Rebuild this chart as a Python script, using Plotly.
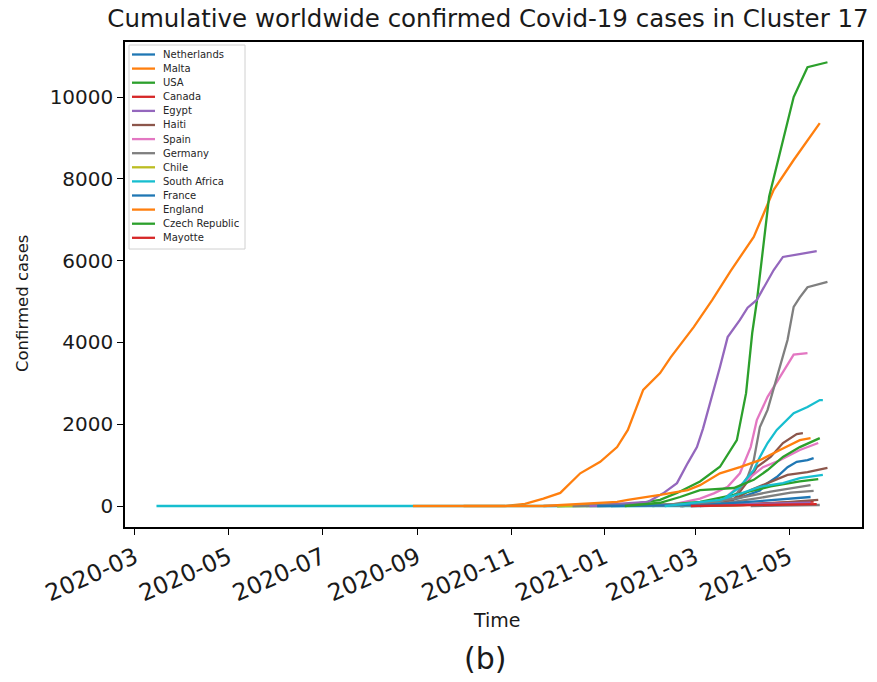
import plotly.graph_objects as go

# ---------------- data ----------------
COLORS = ["#1f77b4", "#ff7f0e", "#2ca02c", "#d62728", "#9467bd",
          "#8c564b", "#e377c2", "#7f7f7f", "#bcbd22", "#17becf"]

legend_names = ["Netherlands", "Malta", "USA", "Canada", "Egypt", "Haiti", "Spain",
                "Germany", "Chile", "South Africa", "France", "England",
                "Czech Republic", "Mayotte"]

netherlands_dates = ["2021-01-05", "2021-02-26", "2021-03-17", "2021-03-30", "2021-04-12", "2021-04-17",
                     "2021-04-23", "2021-04-30", "2021-05-06", "2021-05-13", "2021-05-17"]
netherlands_cases = [0, 10, 80, 200, 380, 560, 710, 950, 1080, 1120, 1170]

malta_dates = ["2020-10-01", "2020-10-28", "2020-11-10", "2020-11-22", "2020-12-03", "2020-12-16",
               "2020-12-29", "2021-01-09", "2021-01-16", "2021-01-26", "2021-02-06", "2021-02-13",
               "2021-02-28", "2021-03-12", "2021-03-24", "2021-04-08", "2021-04-21", "2021-05-04",
               "2021-05-21"]
malta_cases = [0, 0, 50, 180, 320, 800, 1080, 1440, 1860, 2840, 3250, 3640, 4380, 5040, 5750,
               6580, 7730, 8460, 9360]

usa_dates = ["2020-12-01", "2021-01-20", "2021-02-06", "2021-02-17", "2021-03-04", "2021-03-17",
             "2021-03-28", "2021-04-03", "2021-04-07", "2021-04-10", "2021-04-18", "2021-04-27",
             "2021-05-04", "2021-05-13", "2021-05-26"]
usa_cases = [0, 50, 150, 320, 600, 960, 1610, 2760, 4230, 5000, 7560, 8950, 10000, 10730, 10850]

canada_dates = ["2021-02-26", "2021-04-01", "2021-05-17"]
canada_cases = [0, 40, 110]

egypt_dates = ["2020-12-20", "2021-01-29", "2021-02-08", "2021-02-17", "2021-02-24", "2021-03-02",
               "2021-03-06", "2021-03-13", "2021-03-17", "2021-03-22", "2021-03-30", "2021-04-04",
               "2021-04-10", "2021-04-21", "2021-04-27", "2021-05-19"]
egypt_cases = [0, 100, 310, 560, 1050, 1440, 1900, 2840, 3400, 4130, 4550, 4850, 5040, 5770,
               6090, 6230]

haiti_dates = ["2021-02-20", "2021-03-24", "2021-03-28", "2021-04-01", "2021-04-06", "2021-04-10",
               "2021-04-19", "2021-04-27", "2021-05-06", "2021-05-10"]
haiti_cases = [0, 80, 250, 450, 700, 950, 1200, 1540, 1760, 1780]

spain_dates = ["2021-02-09", "2021-03-04", "2021-03-13", "2021-03-22", "2021-03-30", "2021-04-06",
               "2021-04-10", "2021-04-17", "2021-04-25", "2021-05-04", "2021-05-13"]
spain_cases = [0, 180, 310, 470, 800, 1440, 2100, 2670, 3150, 3700, 3740]

germany_dates = ["2021-02-20", "2021-03-17", "2021-03-28", "2021-04-04", "2021-04-08", "2021-04-12",
                 "2021-04-17", "2021-04-23", "2021-04-30", "2021-05-04", "2021-05-08", "2021-05-13",
                 "2021-05-26"]
germany_cases = [0, 50, 310, 710, 1120, 1930, 2350, 3150, 4060, 4870, 5100, 5350, 5480]

chile_dates = ["2020-12-01", "2021-03-17", "2021-05-13"]
chile_cases = [0, 10, 60]

south_africa_dates = ["2020-03-15", "2020-08-31", "2021-03-04", "2021-03-17", "2021-03-30",
                      "2021-04-08", "2021-04-12", "2021-04-17", "2021-04-23", "2021-05-04",
                      "2021-05-13", "2021-05-21", "2021-05-23"]
south_africa_cases = [0, 0, 0, 100, 470, 880, 1200, 1540, 1860, 2270, 2420, 2590, 2590]

france_dates = ["2020-12-27", "2021-03-04", "2021-04-12", "2021-05-15"]
france_cases = [0, 20, 120, 220]

england_dates = ["2020-08-29", "2020-11-22", "2021-01-09", "2021-01-16", "2021-02-06", "2021-02-24",
                 "2021-03-04", "2021-03-17", "2021-03-30", "2021-04-12", "2021-04-25", "2021-05-08",
                 "2021-05-15"]
england_cases = [0, 0, 100, 150, 270, 390, 510, 800, 950, 1120, 1370, 1610, 1660]

czech_dates = ["2021-01-14", "2021-02-06", "2021-02-19", "2021-03-04", "2021-03-26", "2021-04-08",
               "2021-04-17", "2021-04-27", "2021-05-08", "2021-05-21"]
czech_cases = [0, 80, 220, 390, 440, 640, 880, 1200, 1440, 1660]

mayotte_dates = ["2021-02-26", "2021-03-30", "2021-05-02", "2021-05-19"]
mayotte_cases = [0, 20, 35, 45]

# further lines of the cluster that have no legend entry (colour cycle continues)
extra_pink_dates = ["2021-02-19", "2021-03-17", "2021-04-01", "2021-04-14", "2021-04-25", "2021-05-08", "2021-05-20"]
extra_pink_cases = [0, 100, 560, 950, 1120, 1370, 1540]
extra_brown_dates = ["2021-02-19", "2021-03-17", "2021-03-28", "2021-04-06", "2021-04-17", "2021-04-30", "2021-05-13", "2021-05-26"]
extra_brown_cases = [0, 50, 200, 390, 560, 760, 830, 930]
extra_green_dates = ["2021-02-01", "2021-03-04", "2021-03-30", "2021-04-19", "2021-05-08", "2021-05-20"]
extra_green_cases = [0, 100, 300, 480, 600, 660]
extra_brown2_dates = ["2021-03-04", "2021-04-01", "2021-05-02", "2021-05-20"]
extra_brown2_cases = [0, 20, 100, 150]
extra_gray3_dates = ["2021-04-06", "2021-05-21"]
extra_gray3_cases = [0, 25]
extra_gray1_dates = ["2020-11-22", "2021-03-04", "2021-03-30", "2021-04-19", "2021-05-08", "2021-05-15"]
extra_gray1_cases = [0, 50, 200, 350, 470, 510]
extra_olive_dates = ["2020-12-01", "2021-03-17", "2021-05-13"]
extra_olive_cases = [0, 15, 60]
extra_gray2_dates = ["2020-12-11", "2021-03-17", "2021-04-12", "2021-05-02", "2021-05-17"]
extra_gray2_cases = [0, 50, 200, 330, 370]
extra_purple_dates = ["2020-12-22", "2021-03-17", "2021-05-15"]
extra_purple_cases = [0, 30, 80]
extra_cyan_dates = ["2021-02-09", "2021-03-17", "2021-03-30", "2021-04-12", "2021-04-27", "2021-05-08", "2021-05-23"]
extra_cyan_cases = [0, 150, 300, 470, 560, 680, 760]

y_tick_values = [0, 2000, 4000, 6000, 8000, 10000]
y_tick_labels = ["0", "2000", "4000", "6000", "8000", "10000"]

# ---------------- figure ----------------
# (label, dates, cases, colour) in drawing order
draw_order = [
    ("Netherlands", netherlands_dates, netherlands_cases, COLORS[0]),
    ("Malta", malta_dates, malta_cases, COLORS[1]),
    ("USA", usa_dates, usa_cases, COLORS[2]),
    ("Canada", canada_dates, canada_cases, COLORS[3]),
    ("Egypt", egypt_dates, egypt_cases, COLORS[4]),
    ("Haiti", haiti_dates, haiti_cases, COLORS[5]),
    ("Spain", spain_dates, spain_cases, COLORS[6]),
    ("Germany", germany_dates, germany_cases, COLORS[7]),
    ("Chile", chile_dates, chile_cases, COLORS[8]),
    (None, extra_pink_dates, extra_pink_cases, COLORS[6]),
    (None, extra_brown_dates, extra_brown_cases, COLORS[5]),
    (None, extra_green_dates, extra_green_cases, COLORS[2]),
    (None, extra_brown2_dates, extra_brown2_cases, COLORS[5]),
    (None, extra_gray3_dates, extra_gray3_cases, COLORS[7]),
    ("South Africa", south_africa_dates, south_africa_cases, COLORS[9]),
    (None, extra_gray1_dates, extra_gray1_cases, COLORS[7]),
    (None, extra_olive_dates, extra_olive_cases, COLORS[8]),
    (None, extra_gray2_dates, extra_gray2_cases, COLORS[7]),
    (None, extra_purple_dates, extra_purple_cases, COLORS[4]),
    ("France", france_dates, france_cases, COLORS[0]),
    ("England", england_dates, england_cases, COLORS[1]),
    ("Czech Republic", czech_dates, czech_cases, COLORS[2]),
    (None, extra_cyan_dates, extra_cyan_cases, COLORS[9]),
    ("Mayotte", mayotte_dates, mayotte_cases, COLORS[3]),
]

FONT = "DejaVu Sans"
TXT = "#1a1a1a"
fig = go.Figure()
for label, dts, vals, col in draw_order:
    fig.add_trace(go.Scatter(
        x=dts, y=vals, mode="lines", name=label if label else "other",
        line=dict(color=col, width=2.3), showlegend=False,
    ))

# plot-area geometry in pixels (used for the compact legend and free labels)
W, H = 877, 682
ML, MR, MT, MB = 125, 15, 42, 155
PW, PH = W - ML - MR, H - MT - MB


def px_x(p):
    return (p - ML) / PW


def px_y(p):
    return (H - MB - p) / PH


shapes = [dict(type="rect", xref="paper", yref="paper",
               x0=px_x(129), x1=px_x(245), y0=px_y(249), y1=px_y(45),
               line=dict(color="#d0d0d0", width=1), fillcolor="rgba(255,255,255,0.8)", layer="above")]
annotations = []
for i, name in enumerate(legend_names):
    yy = 54.5 + 14.1 * i
    shapes.append(dict(type="line", xref="paper", yref="paper",
                       x0=px_x(132), x1=px_x(155), y0=px_y(yy), y1=px_y(yy),
                       line=dict(color=COLORS[i % 10], width=2.3), layer="above"))
    annotations.append(dict(text=name, xref="paper", yref="paper", x=px_x(161), y=px_y(yy),
                            xanchor="left", yanchor="middle", showarrow=False,
                            font=dict(family=FONT, size=10, color="#262626")))

annotations.append(dict(text="Confirmed cases", xref="paper", yref="paper", x=px_x(22), y=px_y(304),
                        xanchor="center", yanchor="middle", textangle=-90, showarrow=False,
                        font=dict(family=FONT, size=16.5, color=TXT)))
annotations.append(dict(text="Time", xref="paper", yref="paper", x=px_x(497), y=px_y(620),
                        xanchor="center", yanchor="middle", showarrow=False,
                        font=dict(family=FONT, size=19, color=TXT)))
annotations.append(dict(text="(b)", xref="paper", yref="paper", x=px_x(485), y=px_y(658),
                        xanchor="center", yanchor="middle", showarrow=False,
                        font=dict(family=FONT, size=30, color=TXT)))

fig.update_layout(
    width=W, height=H,
    margin=dict(l=ML, r=MR, t=MT, b=MB),
    paper_bgcolor="white", plot_bgcolor="white",
    font=dict(family=FONT, color=TXT),
    title=dict(text="Cumulative worldwide confirmed Covid-19 cases in Cluster 17",
               x=px_x(488), xref="paper", xanchor="center",
               y=1 - 18 / H, yref="container", yanchor="middle",
               font=dict(family=FONT, size=24.5, color=TXT)),
    shapes=shapes, annotations=annotations,
    showlegend=False,
)
fig.update_xaxes(
    type="date", range=["2020-02-23 12:00", "2021-06-17 12:00"],
    tick0="2020-03-01", dtick="M2", tickformat="%Y-%m", tickangle=-24,
    ticks="outside", ticklen=6, tickwidth=1.3, tickcolor="black",
    showline=True, linecolor="black", linewidth=1.5, mirror=True,
    showgrid=False, zeroline=False,
    tickfont=dict(family=FONT, size=23.5, color=TXT),
)
fig.update_yaxes(
    range=[-513, 11345], tickvals=y_tick_values, ticktext=y_tick_labels,
    ticks="outside", ticklen=6, tickwidth=1.3, tickcolor="black",
    showline=True, linecolor="black", linewidth=1.5, mirror=True,
    showgrid=False, zeroline=False,
    tickfont=dict(family=FONT, size=20, color=TXT),
)

fig.write_html("out.html")
